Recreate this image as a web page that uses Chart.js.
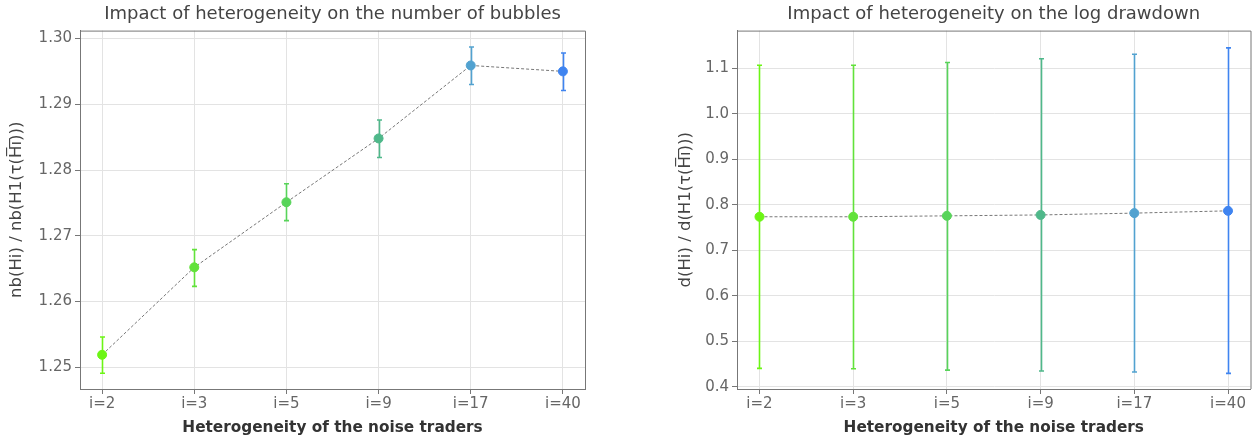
<!DOCTYPE html>
<html>
<head>
<meta charset="utf-8">
<script src="https://cdn.jsdelivr.net/npm/chart.js@4.4.1/dist/chart.umd.min.js"></script>
<style>
  body { margin: 0; background: #fff; }
  .box { position: absolute; top: 0; width: 628px; height: 441px; }
  #b1 { left: 0; }
  #b2 { left: 628px; }
</style>
</head>
<body>
<div class="box" id="b1"><canvas id="c1"></canvas></div>
<div class="box" id="b2"><canvas id="c2"></canvas></div>
<script>
// categories
var categories = ["i=2", "i=3", "i=5", "i=9", "i=17", "i=40"];
var pointColors = ["#6cf515", "#62e23a", "#58d45a", "#4fb88a", "#52a2d0", "#3f84f0"];

// number of bubbles ratio
var bubbles = [1.2519, 1.2652, 1.2751, 1.2848, 1.2959, 1.2950];
var bubblesLow = [1.2491, 1.2623, 1.2723, 1.2819, 1.2930, 1.2921];
var bubblesHigh = [1.2546, 1.2679, 1.2779, 1.2876, 1.2987, 1.2978];
var bubblesTicks = [1.25, 1.26, 1.27, 1.28, 1.29, 1.30];

// log drawdown ratio
var drawdown = [0.774, 0.774, 0.776, 0.778, 0.782, 0.787];
var drawdownLow = [0.441, 0.440, 0.437, 0.435, 0.433, 0.430];
var drawdownHigh = [1.107, 1.107, 1.113, 1.121, 1.131, 1.145];
var drawdownTicks = [0.4, 0.5, 0.6, 0.7, 0.8, 0.9, 1.0, 1.1];

var font = "'DejaVu Sans', sans-serif";

var errorBars = {
  id: "errorBars",
  afterDatasetsDraw: function (chart, args, opts) {
    var ctx = chart.ctx, xs = chart.scales.x, ys = chart.scales.y;
    ctx.save();
    opts.low.forEach(function (lo, i) {
      var x = Math.round(xs.getPixelForValue(i)) + 0.5;
      var y1 = ys.getPixelForValue(lo), y2 = ys.getPixelForValue(opts.high[i]);
      ctx.strokeStyle = pointColors[i];
      ctx.lineWidth = 1.6;
      ctx.beginPath();
      ctx.moveTo(x, y1); ctx.lineTo(x, y2);
      ctx.moveTo(x - 2.5, y1); ctx.lineTo(x + 2.5, y1);
      ctx.moveTo(x - 2.5, y2); ctx.lineTo(x + 2.5, y2);
      ctx.stroke();
    });
    ctx.restore();
  }
};

var frame = {
  id: "frame",
  beforeDatasetsDraw: function (chart) {
    var a = chart.chartArea, ctx = chart.ctx;
    ctx.save();
    ctx.strokeStyle = "#777";
    ctx.lineWidth = 1;
    ctx.beginPath();
    ctx.moveTo(a.left, a.top + 0.5); ctx.lineTo(a.right + 0.5, a.top + 0.5);
    ctx.lineTo(a.right + 0.5, a.bottom);
    ctx.stroke();
    ctx.restore();
  }
};

function makeChart(id, title, yTitle, vals, lo, hi, ticks, digits, yMin, yMax, yWidth, padRight, yTitlePad) {
  var pts = vals.map(function (v, i) { return { x: i, y: v }; });
  return new Chart(document.getElementById(id), {
    type: "line",
    data: {
      datasets: [{
        data: pts,
        borderColor: "#777",
        borderWidth: 1,
        borderDash: [3, 2],
        pointBackgroundColor: pointColors,
        pointBorderColor: pointColors,
        pointRadius: 4.5,
        pointHoverRadius: 4.5
      }]
    },
    options: {
      responsive: false,
      animation: false,
      layout: { padding: { left: 0, right: padRight, top: 0, bottom: 0 } },
      plugins: {
        legend: { display: false },
        tooltip: { enabled: false },
        title: {
          display: true, text: title, color: "#444", fullSize: false,
          font: { family: font, size: 18, weight: "normal" },
          padding: { top: 4, bottom: 5 }
        },
        errorBars: { low: lo, high: hi }
      },
      scales: {
        x: {
          type: "linear", min: -0.24, max: 5.24,
          afterBuildTicks: function (s) { s.ticks = categories.map(function (c, i) { return { value: i }; }); },
          afterFit: function (s) { s.height = 52; },
          ticks: {
            color: "#666", font: { family: font, size: 15 }, padding: 1,
            callback: function (v) { return categories[v]; }
          },
          grid: { color: "#e3e3e3", tickColor: "#777", tickLength: 5 },
          border: { color: "#777", width: 1 },
          title: {
            display: true, text: "Heterogeneity of the noise traders", color: "#333",
            font: { family: font, size: 15.3, weight: "bold" }, padding: { top: 12 }
          }
        },
        y: {
          min: yMin, max: yMax,
          afterBuildTicks: function (s) { s.ticks = ticks.map(function (v) { return { value: v }; }); },
          afterFit: function (s) { s.width = yWidth; },
          ticks: {
            color: "#666", font: { family: font, size: 15 }, padding: 3,
            callback: function (v) { return v.toFixed(digits); }
          },
          grid: { color: "#e3e3e3", tickColor: "#777", tickLength: 5 },
          border: { color: "#777", width: 1 },
          title: {
            display: true, text: yTitle, color: "#444",
            font: { family: font, size: 16.5 }, padding: { top: yTitlePad, bottom: 0 }
          }
        }
      }
    },
    plugins: [errorBars, frame]
  });
}

document.getElementById("c1").width = 628; document.getElementById("c1").height = 441;
document.getElementById("c2").width = 628; document.getElementById("c2").height = 441;

makeChart("c1", "Impact of heterogeneity on the number of bubbles",
  "nb(Hi) / nb(H1(\u03c4(H\u0305i\u0305)))", bubbles, bubblesLow, bubblesHigh, bubblesTicks, 2,
  1.2467, 1.3012, 80, 43, 7);
makeChart("c2", "Impact of heterogeneity on the log drawdown",
  "d(Hi) / d(H1(\u03c4(H\u0305i\u0305)))", drawdown, drawdownLow, drawdownHigh, drawdownTicks, 1,
  0.3956, 1.183, 109, 5, 48);
</script>
</body>
</html>
